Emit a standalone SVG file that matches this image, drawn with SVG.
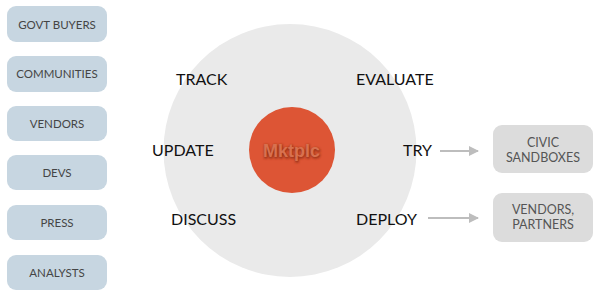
<svg xmlns="http://www.w3.org/2000/svg" width="600" height="298" viewBox="0 0 600 298">
<style>
.lb{fill:#c7d6e1}
.rb{fill:#dcdcdc}
.lt{font-family:Lato,"Open Sans",sans-serif;font-size:11.5px;fill:#454545;text-anchor:middle}
.rt{font-family:Lato,"Open Sans",sans-serif;font-size:12.5px;fill:#555;text-anchor:middle}
.vt{font-family:Lato,"Open Sans",sans-serif;font-size:16px;fill:#111}
.ar{stroke:#bdbdbd;stroke-width:2;fill:none;marker-end:url(#ah)}
</style>
<defs>
<marker id="ah" viewBox="0 0 10 10" refX="9" refY="5" markerWidth="5" markerHeight="5" orient="auto" markerUnits="strokeWidth">
<path d="M0,0 L10,5 L0,10 z" fill="#bdbdbd"/>
</marker>
<filter id="sh" x="-20%" y="-20%" width="140%" height="140%">
<feGaussianBlur stdDeviation="0.9"/>
</filter>
</defs>
<rect width="600" height="298" fill="#fff"/>
<g id="ring"><circle cx="290" cy="150.5" r="126.5" fill="#eaeaea"/></g>
<g id="left-nodes">
<g id="govt"><rect class="lb" x="7" y="6" width="100" height="36" rx="9"/><text class="lt" x="57" y="28.5">GOVT BUYERS</text></g>
<g id="communities"><rect class="lb" x="7" y="56" width="100" height="36" rx="9"/><text class="lt" x="57" y="78">COMMUNITIES</text></g>
<g id="vendors"><rect class="lb" x="7" y="106" width="100" height="35" rx="9"/><text class="lt" x="57" y="128">VENDORS</text></g>
<g id="devs"><rect class="lb" x="7" y="155" width="100" height="35" rx="9"/><text class="lt" x="57" y="177">DEVS</text></g>
<g id="press"><rect class="lb" x="7" y="205" width="100" height="35" rx="9"/><text class="lt" x="57" y="227">PRESS</text></g>
<g id="analysts"><rect class="lb" x="7" y="255" width="100" height="35" rx="9"/><text class="lt" x="57" y="277">ANALYSTS</text></g>
</g>
<g id="center">
<circle cx="292" cy="150" r="43" fill="#dd5535"/>
<text x="292" y="157.5" font-family="'Liberation Sans',Arial,sans-serif" font-weight="bold" font-size="18" text-anchor="middle" fill="#9a3418" stroke="#9a3418" stroke-width="1.2" filter="url(#sh)">Mktplc</text>
<text x="291.5" y="156.5" font-family="'Liberation Sans',Arial,sans-serif" font-weight="bold" font-size="18" text-anchor="middle" fill="#d8714f">Mktplc</text>
</g>
<g id="verbs">
<text class="vt" x="176" y="85">TRACK</text>
<text class="vt" x="356" y="85">EVALUATE</text>
<text class="vt" x="152" y="156">UPDATE</text>
<text class="vt" x="403" y="156">TRY</text>
<text class="vt" x="171" y="225">DISCUSS</text>
<text class="vt" x="356" y="225">DEPLOY</text>
</g>
<g id="connectors">
<line class="ar" x1="440" y1="151" x2="478" y2="151"/>
<line class="ar" x1="428" y1="218" x2="478" y2="218"/>
</g>
<g id="right-nodes">
<g id="sandboxes"><rect class="rb" x="493" y="125" width="100" height="48" rx="9"/><text class="rt" x="543" y="147">CIVIC</text><text class="rt" x="543" y="162">SANDBOXES</text></g>
<g id="partners"><rect class="rb" x="493" y="193" width="100" height="49" rx="9"/><text class="rt" x="543" y="214">VENDORS,</text><text class="rt" x="543" y="229">PARTNERS</text></g>
</g>
</svg>
